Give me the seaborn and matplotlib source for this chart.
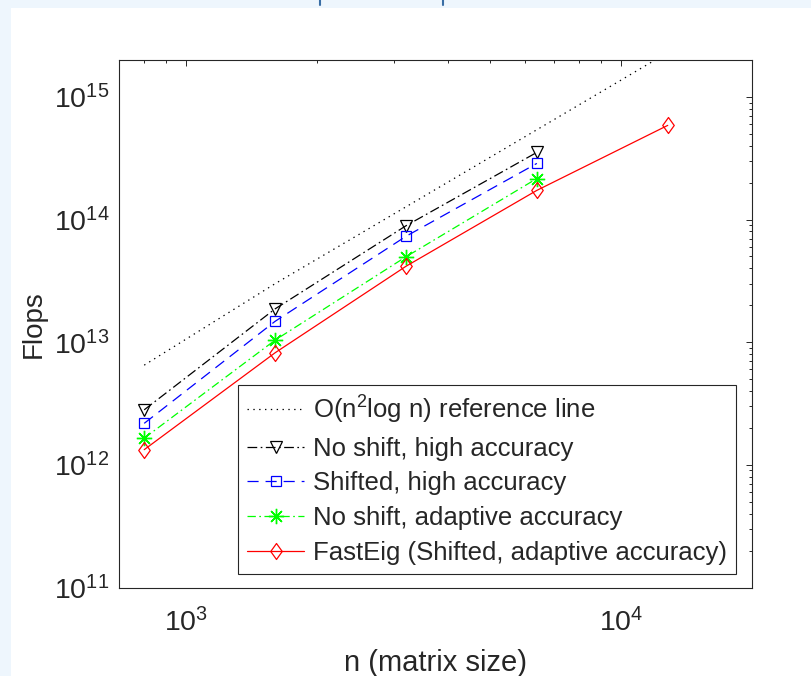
import numpy as np
import pandas as pd
import matplotlib as mpl
mpl.use("Agg")
import matplotlib.pyplot as plt
from matplotlib.patches import Rectangle
from matplotlib.lines import Line2D
from matplotlib.path import Path
import seaborn as sns

# data
n = [800, 1600, 3200, 6400]
n_fast = [800, 1600, 3200, 6400, 12800]
ref_line = [6.5e12, 3.0e13, 1.27e14, 5.4e14, 2.3e15]
noshift_high = [2.81e12, 1.87e13, 8.9e13, 3.53e14]
shifted_high = [2.18e12, 1.48e13, 7.3e13, 2.87e14]
noshift_adapt = [1.65e12, 1.04e13, 4.97e13, 2.16e14]
fasteig = [1.33e12, 8.2e12, 4.16e13, 1.73e14, 5.86e14]

labels = [
    r"O(n$^2$log n) reference line",
    "No shift, high accuracy",
    "Shifted, high accuracy",
    "No shift, adaptive accuracy",
    "FastEig (Shifted, adaptive accuracy)",
]

sns.set_theme(style="white")
plt.rcParams["font.family"] = ["Liberation Sans", "DejaVu Sans"]
plt.rcParams["mathtext.fontset"] = "custom"
plt.rcParams["mathtext.rm"] = "Liberation Sans"
plt.rcParams["mathtext.it"] = "Liberation Sans:italic"
plt.rcParams["mathtext.bf"] = "Liberation Sans:bold"
plt.rcParams["lines.scale_dashes"] = False

# matlab-like diamond (a bit taller than wide)
diamond = Path([(0, 1), (0.72, 0), (0, -1), (-0.72, 0), (0, 1)],
               [Path.MOVETO, Path.LINETO, Path.LINETO, Path.LINETO, Path.CLOSEPOLY])

fig = plt.figure(figsize=(8.12, 6.76), dpi=100)
fig.patch.set_facecolor("#eef6fd")
# white slide area
fig.add_artist(Rectangle((11 / 812, 0), 1, 1 - 8 / 676, transform=fig.transFigure,
                         fc="white", ec="none", zorder=-5))
for xp in (320, 443):
    fig.add_artist(Line2D([xp / 812, xp / 812], [1, 1 - 5 / 676], transform=fig.transFigure,
                          color="#3a6ea5", lw=1.5, zorder=-4))

ax = fig.add_axes([119 / 812, 1 - 587.5 / 676, (752 - 119) / 812, (587.5 - 60) / 676])
ax.set_facecolor("white")

lw = 0.9
sns.lineplot(x=n_fast, y=ref_line, ax=ax, color="black", lw=lw,
             linestyle=(0, (1, 3.2)), label=labels[0])
sns.lineplot(x=n, y=noshift_high, ax=ax, color="black", lw=lw,
             linestyle=(0, (7, 2.5, 1.2, 2.5)), marker="v", markersize=9,
             markerfacecolor="none", markeredgecolor="black", markeredgewidth=0.9,
             label=labels[1])
sns.lineplot(x=n, y=shifted_high, ax=ax, color="#0000ff", lw=lw,
             linestyle=(0, (8, 5)), marker="s", markersize=7,
             markerfacecolor="none", markeredgecolor="#0000ff", markeredgewidth=0.9,
             label=labels[2])
sns.lineplot(x=n, y=noshift_adapt, ax=ax, color="#00ff00", lw=lw,
             linestyle=(0, (6, 2.5, 1.2, 2.5)), marker=(8, 2, 0), markersize=11,
             markerfacecolor="none", markeredgecolor="#00ff00", markeredgewidth=1.0,
             label=labels[3])
sns.lineplot(x=n_fast, y=fasteig, ax=ax, color="#ff0000", lw=lw,
             linestyle="-", marker=diamond, markersize=11.5,
             markerfacecolor="none", markeredgecolor="#ff0000", markeredgewidth=0.9,
             label=labels[4])

ax.set_xscale("log")
ax.set_yscale("log")
ax.set_xlim(700, 2e4)
ax.set_ylim(1e11, 2e15)

for sp in ax.spines.values():
    sp.set_visible(True)
    sp.set_color("#262626")
    sp.set_linewidth(0.8)

ax.tick_params(which="both", direction="in", top=True, right=True,
               colors="#262626", labelsize=20.5, width=0.7)
ax.tick_params(which="major", length=4.5, pad=7)
ax.tick_params(which="minor", length=2.5)
ax.tick_params(axis="x", which="major", pad=15)

ax.set_xlabel("n (matrix size)", fontsize=21, color="#262626", labelpad=8)
ax.set_ylabel("Flops", fontsize=20, color="#262626", labelpad=5)

leg = ax.legend(loc="lower right", bbox_to_anchor=(736 / 812, 1 - 574 / 676),
                bbox_transform=fig.transFigure, borderaxespad=0, fontsize=18.5,
                frameon=True, fancybox=False, edgecolor="#262626", framealpha=1,
                handlelength=2.2, handletextpad=0.35, labelspacing=0.42,
                borderpad=0.35, numpoints=1)
leg.get_frame().set_linewidth(0.8)

fig.savefig("out.png", dpi=100, facecolor=fig.get_facecolor())
